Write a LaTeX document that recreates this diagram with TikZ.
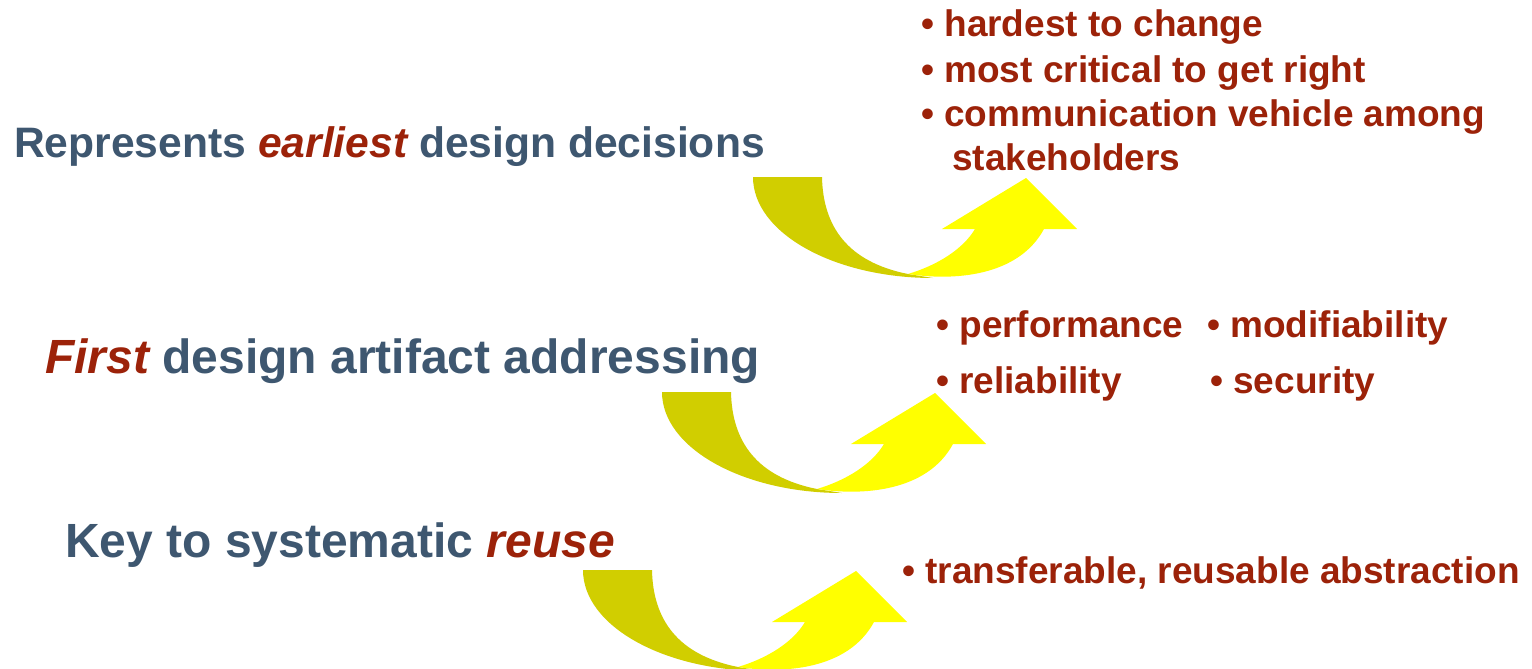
\documentclass[tikz,border=0pt]{standalone}
\usepackage{fontspec}
\setmainfont{Liberation Sans}
\definecolor{headblue}{HTML}{3E5770}
\definecolor{bulletred}{HTML}{9C2209}
\definecolor{darkyel}{HTML}{D1CE00}
\definecolor{lightyel}{HTML}{FFFF00}
\tikzset{
  headtxt/.style={anchor=base west,inner sep=0pt,text=headblue,font=\bfseries\fontsize{42.6}{50}\selectfont},
  headbig/.style={headtxt,font=\bfseries\fontsize{48}{56}\selectfont},
  bultxt/.style={anchor=base west,inner sep=0pt,text=bulletred,font=\bfseries\fontsize{37}{44}\selectfont},
  darkpart/.style={fill=darkyel,draw=none},
  lightpart/.style={fill=lightyel,draw=none}
}
\newcommand{\uturnarrow}[1]{%
  \begin{scope}[shift={#1}]
    \fill[darkpart] (0,0) -- (69,0) .. controls (70,50) and (95,85) .. (155,97)
      -- (180,101) .. controls (81,101) and (0,56) .. (0,0) -- cycle;
    \fill[lightpart] (155,97) .. controls (185,88) and (210,72) .. (222,52)
      -- (189,52) -- (273,1) -- (324,52) -- (291,52)
      .. controls (265,100) and (200,104) .. (155,97) -- cycle;
  \end{scope}}
\begin{document}
\begin{tikzpicture}[x=1pt,y=-1pt]
\useasboundingbox[fill=white] (0,0) rectangle (1532,669);
% arrows
\uturnarrow{(753,177)}
\uturnarrow{(662,392)}
\uturnarrow{(583,570)}
% headings
\node[headtxt] (h1) at (14,157) {Represents \textcolor{bulletred}{\itshape earliest} design decisions};
\node[headbig] (h2) at (45,373) {\textcolor{bulletred}{\itshape First} design artifact addressing};
\node[headbig] (h3) at (65,557) {Key to systematic \textcolor{bulletred}{\itshape reuse}};
% bullets group 1
\node[bultxt] (b11) at (921,37) {\textbullet\ hardest to change};
\node[bultxt] (b12) at (921,82) {\textbullet\ most critical to get right};
\node[bultxt] (b13) at (921,126) {\textbullet\ communication vehicle among};
\node[bultxt] (b14) at (952,170) {stakeholders};
% bullets group 2
\node[bultxt] (b21) at (936,337) {\textbullet\ performance};
\node[bultxt] (b22) at (1207,337) {\textbullet\ modifiability};
\node[bultxt] (b23) at (936,393) {\textbullet\ reliability};
\node[bultxt] (b24) at (1210,393) {\textbullet\ security};
% bullets group 3
\node[bultxt] (b31) at (902,583) {\textbullet\ transferable, reusable abstraction};
\end{tikzpicture}
\end{document}
